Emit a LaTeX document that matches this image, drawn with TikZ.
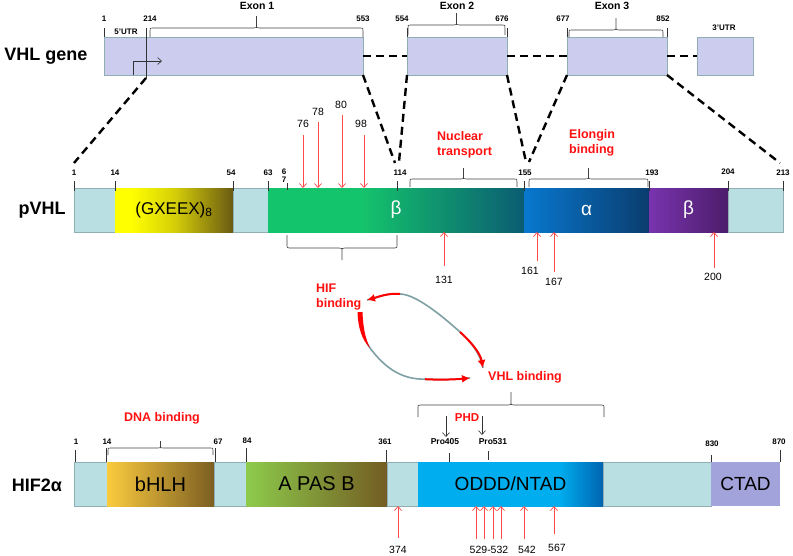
\documentclass[tikz,border=0pt]{standalone}
\usepackage{fontspec}
\setmainfont{Liberation Sans}
\usetikzlibrary{arrows.meta}
\definecolor{genefill}{HTML}{CCCCEE}
\definecolor{edgec}{HTML}{8FAFB5}
\definecolor{pale}{HTML}{BADFE2}
\definecolor{mutred}{HTML}{FF4A4A}
\definecolor{lblred}{HTML}{FF1010}
\definecolor{cycgray}{HTML}{7E9FA3}
\definecolor{gA}{HTML}{14C46C}
\definecolor{gB}{HTML}{0B5C72}
\definecolor{yA}{HTML}{FFFF00}
\definecolor{yM}{HTML}{D6CF08}
\definecolor{yB}{HTML}{6A5A12}
\definecolor{oA}{HTML}{00AEEF}
\definecolor{oB}{HTML}{0064B0}
\definecolor{aA}{HTML}{0878CF}
\definecolor{aB}{HTML}{0A3D6E}
\definecolor{pA}{HTML}{7834AE}
\definecolor{pB}{HTML}{4C1C6A}
\definecolor{bA}{HTML}{FBCB3E}
\definecolor{bB}{HTML}{7B5E22}
\definecolor{sA}{HTML}{8DCB4C}
\definecolor{sB}{HTML}{735C22}
\definecolor{ctad}{HTML}{A3A3DC}
\pgfdeclarehorizontalshading{greenshade}{100bp}{color(0bp)=(gA); color(25bp)=(gA); color(43bp)=(gA); color(75bp)=(gB); color(100bp)=(gB)}
\pgfdeclarehorizontalshading{yellowshade}{100bp}{color(0bp)=(yA); color(25bp)=(yA); color(32bp)=(yA); color(50bp)=(yM); color(75bp)=(yB); color(100bp)=(yB)}
\pgfdeclarehorizontalshading{odddshade}{100bp}{color(0bp)=(oA); color(25bp)=(oA); color(63bp)=(oA); color(75bp)=(oB); color(100bp)=(oB)}
\newcommand\mkseg[7]{\node[seg,minimum width={(#3-#2)*1pt},minimum height={(#5-#4)*1pt},#6] (#1) at (#2,#4) {#7};}
% bracket: x1, x2, y of ends, y of straight part, y of tip
\newcommand\brk[5]{\draw[brkst] (#1,#3) -- (#1,{#4+(#3-#4)*0.3}) .. controls (#1,#4) .. ({#1+2.5},#4) -- ({(#1+#2)/2-3},#4) .. controls ({(#1+#2)/2},#4) .. ({(#1+#2)/2},{#4+(#5-#4)*0.3}) -- ({(#1+#2)/2},#5) ({(#1+#2)/2},{#4+(#5-#4)*0.3}) .. controls ({(#1+#2)/2},#4) .. ({(#1+#2)/2+3},#4) -- ({#2-2.5},#4) .. controls (#2,#4) .. (#2,{#4+(#3-#4)*0.3}) -- (#2,#3);}
\begin{document}
\begin{tikzpicture}[x=1pt,y=-1pt,
 seg/.style={draw=edgec,line width=0.5pt,inner sep=0pt,outer sep=0pt,anchor=north west,font=\fontsize{19}{20}\selectfont},
 tk/.style={draw=black!80,line width=0.6pt},
 tnum/.style={font=\bfseries\fontsize{8}{9}\selectfont,inner sep=1pt},
 mnum/.style={font=\fontsize{10.5}{12}\selectfont,inner sep=1pt},
 rowlbl/.style={font=\bfseries\fontsize{18}{20}\selectfont},
 redlbl/.style={font=\bfseries\fontsize{12.5}{15}\selectfont,text=lblred,align=left,inner sep=0pt},
 mut/.style={draw=mutred,line width=0.7pt,-{Straight Barb[length=4pt,width=7pt]}},
 phdarr/.style={draw=black!80,line width=0.6pt,-{Straight Barb[length=4pt,width=7pt]}},
 zoomline/.style={draw=black,line width=2.4pt,dash pattern=on 8pt off 5pt},
 brkst/.style={draw=black!75,line width=0.6pt},
 cyc/.style={draw=cycgray,line width=1.6pt},
 cycred/.style={draw=red,line width=2pt}]
\useasboundingbox (0,0) rectangle (793,555);
% ---------------- VHL gene ----------------
\node[rowlbl] (glbl) at (46,56) {VHL gene};
\mkseg{ex1}{104}{363}{37}{75}{fill=genefill}{}
\mkseg{ex2}{407}{507}{37}{75}{fill=genefill}{}
\mkseg{ex3}{567}{667}{37}{75}{fill=genefill}{}
\mkseg{utr3}{697}{753}{37}{75}{fill=genefill}{}
\draw[zoomline] (ex1.east) -- (ex2.west);
\draw[zoomline] (ex2.east) -- (ex3.west);
\draw[zoomline] (ex3.east) -- (utr3.west);
\draw[tk] (104,28) -- (104,37);
\draw[tk] (146,28) -- (146,78);
\draw[tk] (407,28) -- (407,37);
\draw[tk] (507,28) -- (507,37);
\draw[tk] (567,28) -- (567,37);
\draw[tk] (667,28) -- (667,37);
\node[tnum] at (104,19) {1};
\node[tnum] at (150,19) {214};
\node[tnum] at (363,19) {553};
\node[tnum] at (402,19) {554};
\node[tnum] at (502,19) {676};
\node[tnum] at (563,19) {677};
\node[tnum] at (663,19) {852};
\node[tnum] at (126,32) {5'UTR};
\node[tnum] at (724,28) {3'UTR};
\node[font=\bfseries\fontsize{10.5}{12}\selectfont] (e1) at (257,6) {Exon 1};
\node[font=\bfseries\fontsize{10.5}{12}\selectfont] (e2) at (457,6) {Exon 2};
\node[font=\bfseries\fontsize{10.5}{12}\selectfont] (e3) at (612,6) {Exon 3};
\brk{150}{363}{37}{28}{16}
\brk{408}{505}{35}{25}{13}
\brk{569}{663}{37}{30}{18}
\coordinate (prom) at (133,75);
\coordinate (promend) at (162,61);
\draw[phdarr] (prom) |- (promend);
% zoom lines
\coordinate (g214) at (146,78);
\coordinate (z1) at (74,163);
\coordinate (z2) at (395,163);
\coordinate (z3) at (399,162);
\coordinate (z4) at (526,162);
\coordinate (z5) at (529,162);
\coordinate (z6) at (780,163);
\draw[zoomline] (g214) -- (z1);
\draw[zoomline] (ex1.south east) -- (z2);
\draw[zoomline] (ex2.south west) -- (z3);
\draw[zoomline] (ex2.south east) -- (z4);
\draw[zoomline] (ex3.south west) -- (z5);
\draw[zoomline] (ex3.south east) -- (z6);
% ---------------- pVHL ----------------
\node[rowlbl] (plbl) at (42,210) {pVHL};
\mkseg{pv1}{74}{115}{188}{232}{fill=pale}{}
\mkseg{pv2}{115}{233}{188}{232}{shading=yellowshade,draw=none,font=\fontsize{17}{18}\selectfont}{(GXEEX)\textsubscript{8}}
\mkseg{pv3}{233}{268}{188}{232}{fill=pale}{}
\mkseg{pv4}{268}{524}{188}{232}{shading=greenshade,draw=none,text=white}{β}
\mkseg{pv5}{524}{649}{188}{232}{left color=aA,right color=aB,draw=none,text=white}{α}
\mkseg{pv6}{649}{728}{188}{232}{left color=pA,right color=pB,draw=none,text=white}{β}
\mkseg{pv7}{728}{783}{188}{232}{fill=pale}{}
\foreach \xx in {74,115,233,268,397,524,649,728,783}{\draw[tk] (\xx,181) -- (\xx,191);}
\draw[tk] (287,183) -- (287,190);
\node[tnum] at (74,173) {1};
\node[tnum] at (115,173) {14};
\node[tnum] at (231,173) {54};
\node[tnum] at (268,173) {63};
\node[tnum] at (284,172) {6};
\node[tnum] at (284,180) {7};
\node[tnum] at (400,173) {114};
\node[tnum] at (525,173) {155};
\node[tnum] at (652,173) {193};
\node[tnum] at (728,172) {204};
\node[tnum] at (783,173) {213};
\brk{410}{517}{187}{179}{168}
\brk{529}{648}{187}{179}{168}
\brk{287}{397}{235}{248}{260}
\node[redlbl,anchor=west] (nt) at (437,144.5) {Nuclear\\transport};
\node[redlbl,anchor=west] (eb) at (569,143) {Elongin\\binding};
% mutations pVHL
\node[mnum] (m76) at (303,124) {76};
\node[mnum] (m78) at (318,112) {78};
\node[mnum] (m80) at (341,105) {80};
\node[mnum] (m98) at (361,124) {98};
\draw[mut] (303,135) -- (303,188);
\draw[mut] (318,122) -- (318,188);
\draw[mut] (342,115) -- (342,188);
\draw[mut] (364,135) -- (364,188);
\node[mnum] (m131) at (444,280) {131};
\node[mnum] (m161) at (530,271) {161};
\node[mnum] (m167) at (554,282) {167};
\node[mnum] (m200) at (713,277) {200};
\draw[mut] (444,266) -- (444,232);
\draw[mut] (537,261) -- (537,232);
\draw[mut] (554,272) -- (554,232);
\draw[mut] (714,268) -- (714,232);
% ---------------- cycle ----------------
\node[redlbl,anchor=west] (hifb) at (316,297.5) {HIF\\binding};
\node[redlbl] (vhlb) at (525,377) {VHL binding};
\draw[cyc] (483,368) .. controls (480,352) and (469,340) .. (460,332) .. controls (451,324) and (418,294) .. (400,294) .. controls (388,292.8) and (378,297) .. (367,300);
\draw[cyc] (360,313) .. controls (360.6,325) and (364,340) .. (370,348) .. controls (384.4,367.2) and (400,378) .. (420,379) .. controls (440,380) and (455,379.5) .. (470,378);
\draw[cycred,{Latex[length=8pt,width=8pt]}-] (483,368) .. controls (480,352) and (469,340) .. (460,332);
\draw[cycred,-{Latex[length=8pt,width=8pt]}] (400,294) .. controls (388,292.8) and (378,297) .. (367,300);
\draw[cycred,-{Latex[length=8pt,width=8pt]}] (425,379.2) .. controls (440,380) and (455,379.5) .. (470,378);
\fill[red] (357.5,312) .. controls (358,328) and (362,340) .. (370,348) .. controls (365,338) and (363,326) .. (362.5,312) -- cycle;
% ---------------- HIF2a ----------------
\node[rowlbl] (hlbl) at (37,485) {HIF2α};
\mkseg{h1}{74}{107}{462}{506}{fill=pale}{}
\mkseg{h2}{107}{214}{462}{506}{left color=bA,right color=bB,draw=none,font=\fontsize{20}{22}\selectfont}{bHLH}
\mkseg{h3}{214}{246}{462}{506}{fill=pale}{}
\mkseg{h4}{246}{387}{462}{506}{left color=sA,right color=sB,draw=none,font=\fontsize{20}{22}\selectfont}{A PAS B}
\mkseg{h5}{387}{418}{462}{506}{fill=pale}{}
\mkseg{h6}{418}{603}{462}{506}{shading=odddshade,draw=none}{ODDD/NTAD}
\mkseg{h7}{603}{711}{462}{506}{fill=pale}{}
\mkseg{h8}{711}{780}{462}{506}{fill=ctad,draw=none}{CTAD}
\draw[tk] (75,450) -- (75,462);
\draw[tk] (106,448) -- (106,462);
\draw[tk] (215,448) -- (215,462);
\draw[tk] (246,448) -- (246,462);
\draw[tk] (386,450) -- (386,462);
\draw[tk] (711,455) -- (711,462);
\draw[tk] (780,450) -- (780,462);
\draw[tk] (449,453) -- (449,462);
\draw[tk] (488,451) -- (488,460);
\node[tnum] at (76,442) {1};
\node[tnum] at (107,442) {14};
\node[tnum] at (218,442) {67};
\node[tnum] at (247,441) {84};
\node[tnum] at (385,442) {361};
\node[tnum] at (712,444) {830};
\node[tnum] at (779,442) {870};
\brk{108}{213}{455}{448}{441}
\brk{418}{604}{417}{405}{392}
\node[redlbl] (dna) at (162,418) {DNA binding};
\node[redlbl,font=\bfseries\fontsize{11.5}{13}\selectfont] (phd) at (467,418) {PHD};
\node[font=\bfseries\fontsize{8.5}{10}\selectfont,inner sep=1pt] (p405) at (445,442) {Pro405};
\node[font=\bfseries\fontsize{8.5}{10}\selectfont,inner sep=1pt] (p531) at (493,442) {Pro531};
\draw[phdarr] (446,416) -- (446,437);
\draw[phdarr] (482,416) -- (482,435);
% mutations HIF2a
\node[mnum] (m374) at (398,550) {374};
\node[mnum] (m529) at (489,550) {529-532};
\node[mnum] (m542) at (527,550) {542};
\node[mnum] (m567) at (557,548) {567};
\draw[mut] (398,538) -- (398,506);
\foreach \xx in {476,484,493,501}{\draw[mut] (\xx,539) -- (\xx,506);}
\draw[mut] (524,539) -- (524,506);
\draw[mut] (554,534) -- (554,506);
\end{tikzpicture}
\end{document}
